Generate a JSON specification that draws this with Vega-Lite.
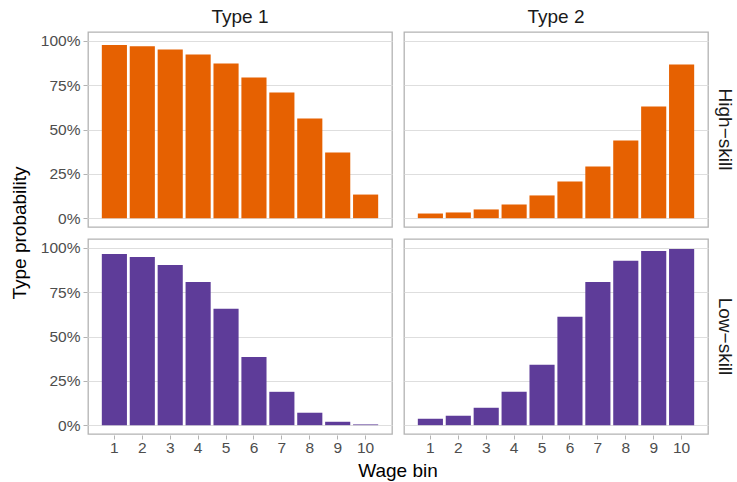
{
  "$schema": "https://vega.github.io/schema/vega-lite/v6.json",
  "padding": {"left": 10, "top": 8, "right": 2, "bottom": 0},
  "data": {"values": [
    {"type": "Type 1", "skill": "High−skill", "bin": 1, "prob": 0.976},
    {"type": "Type 1", "skill": "High−skill", "bin": 2, "prob": 0.970},
    {"type": "Type 1", "skill": "High−skill", "bin": 3, "prob": 0.951},
    {"type": "Type 1", "skill": "High−skill", "bin": 4, "prob": 0.923},
    {"type": "Type 1", "skill": "High−skill", "bin": 5, "prob": 0.872},
    {"type": "Type 1", "skill": "High−skill", "bin": 6, "prob": 0.793},
    {"type": "Type 1", "skill": "High−skill", "bin": 7, "prob": 0.709},
    {"type": "Type 1", "skill": "High−skill", "bin": 8, "prob": 0.562},
    {"type": "Type 1", "skill": "High−skill", "bin": 9, "prob": 0.370},
    {"type": "Type 1", "skill": "High−skill", "bin": 10, "prob": 0.133},
    {"type": "Type 2", "skill": "High−skill", "bin": 1, "prob": 0.026},
    {"type": "Type 2", "skill": "High−skill", "bin": 2, "prob": 0.032},
    {"type": "Type 2", "skill": "High−skill", "bin": 3, "prob": 0.049},
    {"type": "Type 2", "skill": "High−skill", "bin": 4, "prob": 0.077},
    {"type": "Type 2", "skill": "High−skill", "bin": 5, "prob": 0.128},
    {"type": "Type 2", "skill": "High−skill", "bin": 6, "prob": 0.207},
    {"type": "Type 2", "skill": "High−skill", "bin": 7, "prob": 0.291},
    {"type": "Type 2", "skill": "High−skill", "bin": 8, "prob": 0.438},
    {"type": "Type 2", "skill": "High−skill", "bin": 9, "prob": 0.630},
    {"type": "Type 2", "skill": "High−skill", "bin": 10, "prob": 0.867},
    {"type": "Type 1", "skill": "Low−skill", "bin": 1, "prob": 0.966},
    {"type": "Type 1", "skill": "Low−skill", "bin": 2, "prob": 0.949},
    {"type": "Type 1", "skill": "Low−skill", "bin": 3, "prob": 0.904},
    {"type": "Type 1", "skill": "Low−skill", "bin": 4, "prob": 0.808},
    {"type": "Type 1", "skill": "Low−skill", "bin": 5, "prob": 0.656},
    {"type": "Type 1", "skill": "Low−skill", "bin": 6, "prob": 0.385},
    {"type": "Type 1", "skill": "Low−skill", "bin": 7, "prob": 0.188},
    {"type": "Type 1", "skill": "Low−skill", "bin": 8, "prob": 0.070},
    {"type": "Type 1", "skill": "Low−skill", "bin": 9, "prob": 0.019},
    {"type": "Type 1", "skill": "Low−skill", "bin": 10, "prob": 0.004},
    {"type": "Type 2", "skill": "Low−skill", "bin": 1, "prob": 0.036},
    {"type": "Type 2", "skill": "Low−skill", "bin": 2, "prob": 0.053},
    {"type": "Type 2", "skill": "Low−skill", "bin": 3, "prob": 0.098},
    {"type": "Type 2", "skill": "Low−skill", "bin": 4, "prob": 0.188},
    {"type": "Type 2", "skill": "Low−skill", "bin": 5, "prob": 0.340},
    {"type": "Type 2", "skill": "Low−skill", "bin": 6, "prob": 0.611},
    {"type": "Type 2", "skill": "Low−skill", "bin": 7, "prob": 0.808},
    {"type": "Type 2", "skill": "Low−skill", "bin": 8, "prob": 0.927},
    {"type": "Type 2", "skill": "Low−skill", "bin": 9, "prob": 0.983},
    {"type": "Type 2", "skill": "Low−skill", "bin": 10, "prob": 0.994}
  ]},
  "facet": {
    "column": {
      "field": "type", "type": "nominal",
      "header": {"title": "Wage bin", "titleOrient": "bottom", "labelOrient": "top",
        "labelFontSize": 19, "labelColor": "#1A1A1A", "labelFont": "Liberation Sans", "labelPadding": 4,
        "titleFontSize": 19, "titleFontWeight": "normal", "titleColor": "#000000", "titleFont": "Liberation Sans", "titlePadding": -4}
    },
    "row": {
      "field": "skill", "type": "nominal",
      "header": {"title": "Type probability", "titleOrient": "left", "labelOrient": "right", "labelAngle": 90,
        "labelFontSize": 19, "labelColor": "#1A1A1A", "labelFont": "Liberation Sans", "labelPadding": 6,
        "titleFontSize": 19, "titleFontWeight": "normal", "titleColor": "#000000", "titleFont": "Liberation Sans", "titlePadding": 0}
    }
  },
  "spacing": {"row": 10, "column": 10},
  "spec": {
    "width": 304,
    "height": 195,
    "mark": {"type": "bar"},
    "encoding": {
      "x": {
        "field": "bin", "type": "ordinal", "sort": [1,2,3,4,5,6,7,8,9,10],
        "scale": {"paddingInner": 0.1, "paddingOuter": 0.495},
        "axis": {"title": null, "labelAngle": 0, "labelPadding": 1}
      },
      "y": {
        "field": "prob", "type": "quantitative",
        "scale": {"domain": [-0.05, 1.05], "nice": false, "zero": false},
        "axis": {"title": null, "values": [0, 0.25, 0.5, 0.75, 1], "format": ".0%"}
      },
      "color": {
        "field": "skill", "type": "nominal",
        "scale": {"domain": ["High−skill", "Low−skill"], "range": ["#E66101", "#5E3C99"]},
        "legend": null
      }
    }
  },
  "config": {
    "view": {"stroke": "#B3B3B3", "strokeWidth": 1.3},
    "axis": {
      "domain": false,
      "gridColor": "#DEDEDE", "gridWidth": 1,
      "tickColor": "#B3B3B3", "tickSize": 4, "tickWidth": 1,
      "labelColor": "#4D4D4D", "labelFontSize": 15.5, "labelFont": "Liberation Sans", "labelPadding": 3
    },
    "axisX": {"grid": false},
    "axisY": {"grid": true}
  }
}
